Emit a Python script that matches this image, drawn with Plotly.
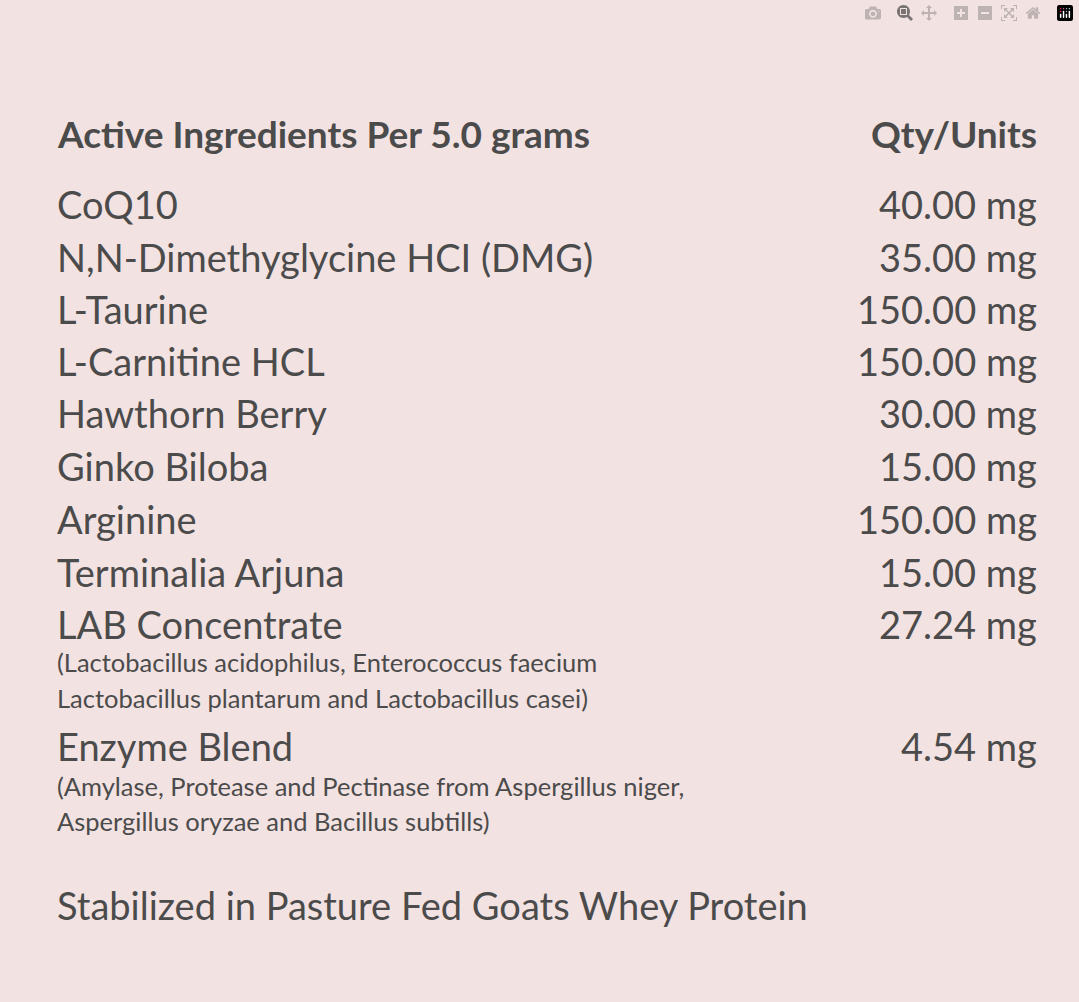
import plotly.graph_objects as go

W, H = 1079, 1002
BG = "#f3e2e2"
INK = "#4b4b4b"
FONT = "Lato"

header = ["Active Ingredients Per 5.0 grams", "Qty/Units"]
ingredients = ["CoQ10", "N,N-Dimethyglycine HCI (DMG)", "L-Taurine", "L-Carnitine HCL",
               "Hawthorn Berry", "Ginko Biloba", "Arginine", "Terminalia Arjuna",
               "LAB Concentrate", "Enzyme Blend"]
quantities = ["40.00 mg", "35.00 mg", "150.00 mg", "150.00 mg", "30.00 mg",
              "15.00 mg", "150.00 mg", "15.00 mg", "27.24 mg", "4.54 mg"]
notes = {
    "LAB Concentrate": ["(Lactobacillus acidophilus, Enterococcus faecium",
                        "Lactobacillus plantarum and Lactobacillus casei)"],
    "Enzyme Blend": ["(Amylase, Protease and Pectinase from Aspergillus niger,",
                     "Aspergillus oryzae and Bacillus subtills)"],
}
footer = "Stabilized in Pasture Fed Goats Whey Protein"

# pixel row centres
row_y = [204, 257, 309, 361, 413, 466, 519, 572, 624, 746]
note_y = {"LAB Concentrate": [662, 698], "Enzyme Blend": [786, 821]}

LEFT, RIGHT = 55, 1039

def py(y):
    return 1 - y / H

ann = []
def txt(x, y, s, size, anchor="left", bold=False):
    ann.append(dict(x=x / W, y=py(y), xref="paper", yref="paper", text=f"<b>{s}</b>" if bold else s,
                    showarrow=False, xanchor=anchor, yanchor="middle",
                    font=dict(family=FONT, size=size, color=INK)))

txt(LEFT, 133, header[0], 37, bold=True)
txt(RIGHT, 133, header[1], 37, "right", bold=True)
for name, qty, y in zip(ingredients, quantities, row_y):
    txt(LEFT, y, name, 38)
    txt(RIGHT, y, qty, 38, "right")
    for line, ly in zip(notes.get(name, []), note_y.get(name, [])):
        txt(LEFT, ly, line, 25.5)
txt(LEFT, 905, footer, 38)

fig = go.Figure()
fig.update_layout(width=W, height=H, margin=dict(l=0, r=0, t=0, b=0),
                  paper_bgcolor=BG, plot_bgcolor=BG, annotations=ann,
                  xaxis=dict(visible=False), yaxis=dict(visible=False))
fig.write_html("out.html", post_script=(
    "document.body.style.margin='0';document.body.style.background='%s';" % BG))
